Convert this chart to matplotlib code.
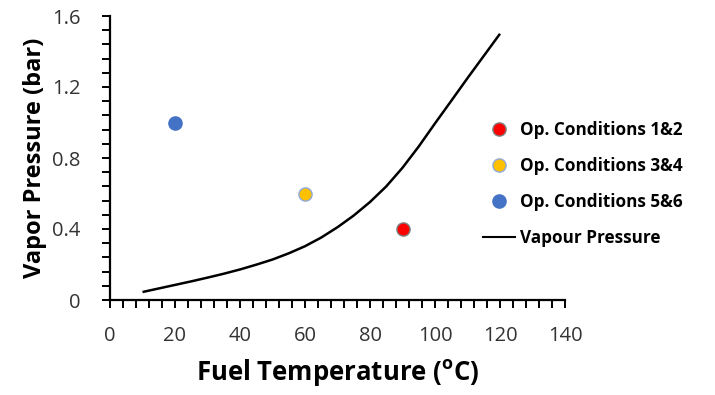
import matplotlib
matplotlib.use("Agg")
import matplotlib.pyplot as plt
from matplotlib.ticker import MultipleLocator, FixedLocator
from matplotlib.lines import Line2D

# Vapour pressure curve of the fuel
temp_curve = [10, 15, 20, 25, 30, 35, 40, 45, 50, 55, 60, 65,
              70, 75, 80, 85, 90, 95, 100, 105, 110, 115, 120]
vp_curve = [0.045, 0.065, 0.085, 0.105, 0.126, 0.148, 0.172, 0.199, 0.228, 0.263, 0.303, 0.352,
            0.410, 0.476, 0.552, 0.640, 0.745, 0.865, 0.995, 1.122, 1.250, 1.375, 1.500]

# Operating conditions (fuel temperature, pressure)
op_labels = ["Op. Conditions 1&2", "Op. Conditions 3&4", "Op. Conditions 5&6"]
op_temp = [90, 60, 20]
op_press = [0.4, 0.6, 1.0]
op_colors = ["#ff0000", "#ffc000", "#4472c4"]
op_edges = ["#7f7f7f", "#8faadc", "#4472c4"]

x_ticks = [0, 20, 40, 60, 80, 100, 120, 140]
y_ticks = [0, 0.4, 0.8, 1.2, 1.6]
y_ticklabels = ["0", "0.4", "0.8", "1.2", "1.6"]

plt.rcParams["font.family"] = ["Open Sans", "DejaVu Sans"]

fig = plt.figure(figsize=(7.15, 3.95), dpi=100)
ax = fig.add_axes([110 / 715, 95 / 395, 455 / 715, 284 / 395])

ax.plot(temp_curve, vp_curve, color="black", lw=1.8, zorder=2,
        solid_joinstyle="round", solid_capstyle="butt")
for t, p, c, e in zip(op_temp, op_press, op_colors, op_edges):
    ax.plot(t, p, "o", ms=9.5, mfc=c, mec=e, mew=1.0, zorder=3)

ax.set_xlim(0, 140)
ax.set_ylim(0, 1.6)
ax.xaxis.set_major_locator(FixedLocator(x_ticks))
ax.xaxis.set_minor_locator(MultipleLocator(4))
ax.yaxis.set_major_locator(FixedLocator(y_ticks))
ax.yaxis.set_minor_locator(MultipleLocator(0.08))
ax.set_yticklabels(y_ticklabels)

for s in ["top", "right"]:
    ax.spines[s].set_visible(False)
for s in ["left", "bottom"]:
    ax.spines[s].set_linewidth(1.6)
    ax.spines[s].set_color("black")

ax.tick_params(which="both", direction="out", length=6, width=1.4, color="black")
ax.tick_params(axis="both", which="major", labelsize=14.5, labelcolor="#333333")
ax.tick_params(axis="x", which="major", pad=13)
ax.tick_params(axis="y", which="major", pad=15)

ax.set_xlabel("Fuel Temperature ($\\mathregular{^{o}}$C)", fontsize=18.5,
              fontweight="bold", labelpad=8)
ax.set_ylabel("Vapor Pressure (bar)", fontsize=17, fontweight="bold", labelpad=4)

handles = [Line2D([], [], ls="none", marker="o", ms=9.5, mfc=c, mec=e, mew=1.0)
           for c, e in zip(op_colors, op_edges)]
handles.append(Line2D([], [], color="black", lw=1.5))
labels = op_labels + ["Vapour Pressure"]
leg = fig.legend(handles, labels, loc="upper left", bbox_to_anchor=(476 / 715, 1 - 114 / 395),
                 frameon=False, prop={"weight": "bold", "size": 12.3},
                 handlelength=1.9, handletextpad=0.3, labelspacing=1.05,
                 borderaxespad=0)

fig.savefig("out.png", dpi=100)
